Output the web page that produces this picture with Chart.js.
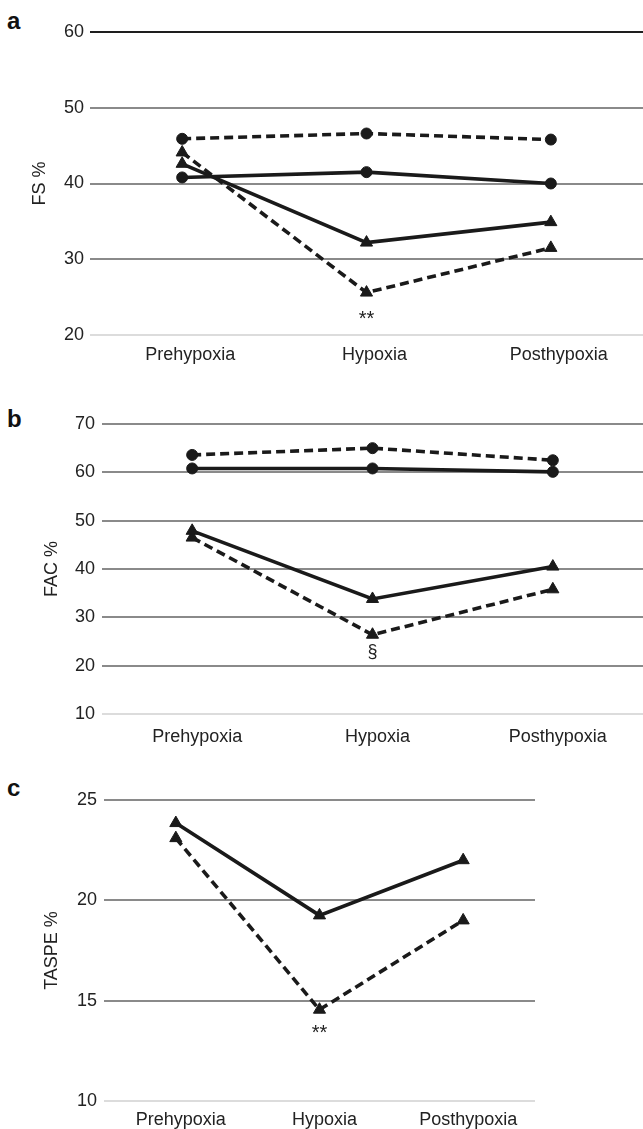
<!DOCTYPE html>
<html lang="en">
<head>
<meta charset="UTF-8">
<title>FS, FAC and TASPE during hypoxia</title>
<script src="https://cdn.jsdelivr.net/npm/chart.js"></script>
<style>
  body {
    margin: 0;
    background: #fff;
    font-family: 'Liberation Sans', Arial, sans-serif;
  }
  .page { position: relative; width: 643px; height: 1129px; overflow: hidden; }
  .panel { position: absolute; left: 0; width: 643px; }
  .letter {
    position: absolute;
    left: 7px;
    font-weight: bold;
    font-size: 24px;
    line-height: 1;
    color: #111;
  }
</style>
</head>
<body>
<div class="page">
  <div class="letter" style="top:9px">a</div>
  <div class="letter" style="top:407px">b</div>
  <div class="letter" style="top:776px">c</div>
  <div class="panel" style="top:0; height:380px"><canvas id="fsChart"></canvas></div>
  <div class="panel" style="top:380px; height:380px"><canvas id="facChart"></canvas></div>
  <div class="panel" style="top:760px; height:369px"><canvas id="taspeChart"></canvas></div>
</div>

<script>
  // categories (shared by all three panels)
  const categories = ['Prehypoxia', 'Hypoxia', 'Posthypoxia'];

  // panel a - FS %
  const fsTicks = [20, 30, 40, 50, 60];
  const fsCircleDashed = [45.9, 46.6, 45.8];
  const fsCircleSolid = [40.8, 41.5, 40.0];
  const fsTriangleSolid = [42.6, 32.2, 34.9];
  const fsTriangleDashed = [44.1, 25.6, 31.5];

  // panel b - FAC %
  const facTicks = [10, 20, 30, 40, 50, 60, 70];
  const facCircleDashed = [63.6, 65.0, 62.5];
  const facCircleSolid = [60.8, 60.8, 60.1];
  const facTriangleSolid = [47.9, 33.8, 40.5];
  const facTriangleDashed = [46.5, 26.4, 35.8];

  // panel c - TASPE %
  const taspeTicks = [10, 15, 20, 25];
  const taspeTriangleSolid = [23.85, 19.25, 22.0];
  const taspeTriangleDashed = [23.1, 14.55, 19.0];

  // significance marks (text baseline value)
  const fsMarks = [{ at: 'Hypoxia', value: 21.3, text: '**', size: 20 }];
  const facMarks = [{ at: 'Hypoxia', value: 21.7, text: '§', size: 18 }];
  const taspeMarks = [{ at: 'Hypoxia', value: 13.1, text: '**', size: 20 }];

  const FONT = "'Liberation Sans', Arial, sans-serif";
  const INK = '#1a1a1a';

  const marksPlugin = {
    id: 'marks',
    afterDatasetsDraw(chart, args, opts) {
      const { ctx, scales: { x, y } } = chart;
      ctx.save();
      ctx.fillStyle = '#222';
      ctx.textAlign = 'center';
      ctx.textBaseline = 'alphabetic';
      (opts.items || []).forEach(m => {
        ctx.font = m.size + 'px ' + FONT;
        ctx.fillText(m.text, x.getPixelForValue(categories.indexOf(m.at)), y.getPixelForValue(m.value));
      });
      ctx.restore();
    }
  };

  function series(data, shape, dashed) {
    return {
      data: data,
      borderColor: INK,
      backgroundColor: INK,
      borderWidth: 3.6,
      borderDash: dashed ? [9, 5] : [],
      pointStyle: shape,
      pointRadius: shape === 'triangle' ? 7 : 5.5,
      pointBackgroundColor: INK,
      pointBorderColor: INK,
      pointBorderWidth: 1,
      tension: 0,
      fill: false
    };
  }

  function makePanel(id, p) {
    new Chart(document.getElementById(id), {
      type: 'line',
      data: { labels: categories, datasets: p.datasets },
      options: {
        responsive: true,
        maintainAspectRatio: false,
        animation: false,
        events: [],
        layout: { autoPadding: false, padding: { top: p.top, right: p.right || 0, left: 0, bottom: 0 } },
        plugins: {
          legend: { display: false },
          tooltip: { enabled: false },
          marks: { items: p.marks }
        },
        scales: {
          x: {
            type: 'category',
            offset: true,
            grid: { display: false },
            border: { display: false },
            ticks: {
              color: '#222',
              font: { family: FONT, size: 18 },
              padding: p.xPad,
              labelOffset: p.labelOffset,
              maxRotation: 0
            },
            afterFit: s => { s.height = p.xHeight; }
          },
          y: {
            min: p.ticks[0],
            max: p.ticks[p.ticks.length - 1],
            afterBuildTicks: s => { s.ticks = p.ticks.map(v => ({ value: v })); },
            border: { display: false },
            grid: {
              drawTicks: false,
              lineWidth: 2,
              color: ctx => p.gridColor(ctx.tick.value)
            },
            ticks: {
              color: '#222',
              font: { family: FONT, size: 18 },
              padding: p.yPad
            },
            title: {
              display: true,
              text: p.title,
              color: '#222',
              font: { family: FONT, size: 18 },
              padding: { top: p.titlePad, bottom: 0 }
            },
            afterFit: s => { s.width = p.yWidth; }
          }
        }
      },
      plugins: [marksPlugin]
    });
  }

  makePanel('fsChart', {
    title: 'FS %',
    ticks: fsTicks,
    top: 32, xHeight: 45, yWidth: 90, yPad: 6, xPad: 1, labelOffset: 8, titlePad: 29,
    gridColor: v => v === 60 ? '#1e1e1e' : (v === 20 ? '#dcdcdc' : '#8a8a8a'),
    marks: fsMarks,
    datasets: [
      series(fsCircleDashed, 'circle', true),
      series(fsCircleSolid, 'circle', false),
      series(fsTriangleSolid, 'triangle', false),
      series(fsTriangleDashed, 'triangle', true)
    ]
  });

  makePanel('facChart', {
    title: 'FAC %',
    ticks: facTicks,
    top: 44, xHeight: 46, yWidth: 102, yPad: 7, xPad: 4, labelOffset: 5, titlePad: 41,
    gridColor: v => v === 10 ? '#dcdcdc' : '#8a8a8a',
    marks: facMarks,
    datasets: [
      series(facCircleDashed, 'circle', true),
      series(facCircleSolid, 'circle', false),
      series(facTriangleSolid, 'triangle', false),
      series(facTriangleDashed, 'triangle', true)
    ]
  });

  makePanel('taspeChart', {
    title: 'TASPE %',
    ticks: taspeTicks,
    top: 40, right: 108, xHeight: 28, yWidth: 104, yPad: 7, xPad: 0, labelOffset: 5, titlePad: 41,
    gridColor: v => v === 10 ? '#dcdcdc' : '#8a8a8a',
    marks: taspeMarks,
    datasets: [
      series(taspeTriangleSolid, 'triangle', false),
      series(taspeTriangleDashed, 'triangle', true)
    ]
  });
</script>
</body>
</html>
